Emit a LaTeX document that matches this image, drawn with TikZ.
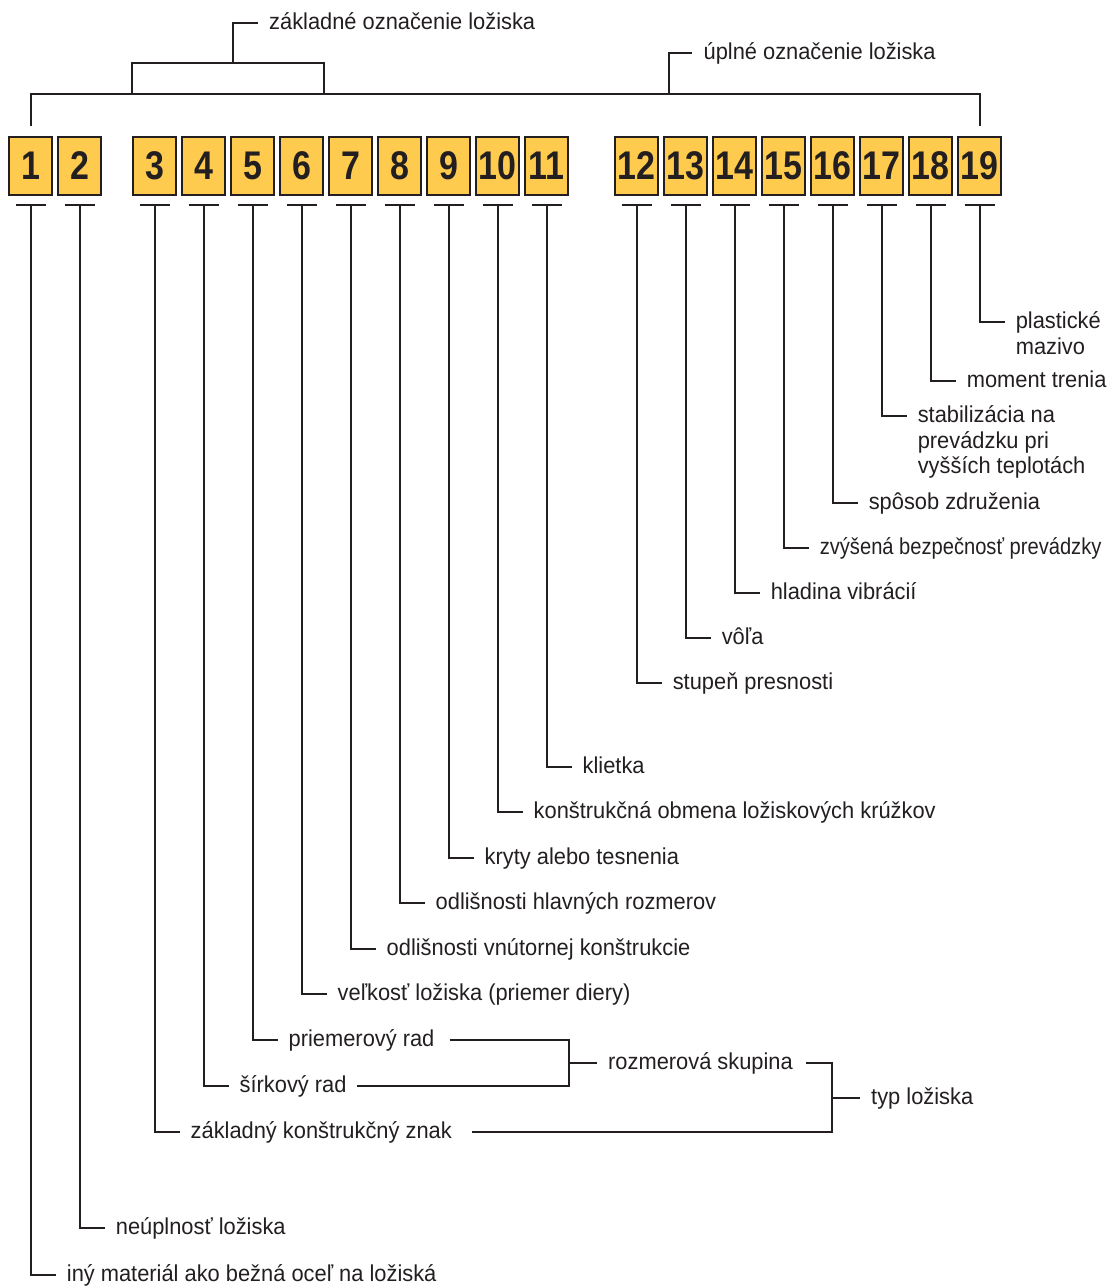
\documentclass[tikz,border=0pt]{standalone}
\usepackage{fontspec}
\setmainfont{Liberation Sans}[FakeStretch=0.95]
\newfontfamily\numfont{Liberation Sans}[FakeStretch=0.85]
\newfontfamily\narrowfont{Liberation Sans}[FakeStretch=0.875]
\definecolor{boxyellow}{HTML}{FFCB4F}
\definecolor{ink}{HTML}{231F20}
\begin{document}
\begin{tikzpicture}[x=1pt,y=-1pt,
  numbox/.style={draw=ink, line width=2pt, fill=boxyellow, minimum width=42.5pt, minimum height=58pt, inner sep=0pt, font=\numfont\bfseries\fontsize{40}{40}\selectfont, text=ink},
  lab/.style={anchor=west, inner xsep=11pt, inner ysep=0pt, text height=13pt, text depth=0pt, font=\fontsize{23}{25.5}\selectfont, text=ink},
  conn/.style={draw=ink, line width=2pt},
]
\useasboundingbox (0,0) rectangle (1106,1287);

% number boxes
\foreach \i/\x in {1/30.7,2/79.7,3/154.5,4/203.5,5/252.5,6/301.5,7/350.5,8/399.5,9/448.5,10/497.5,11/546.5,12/636.6,13/685.6,14/734.6,15/783.6,16/832.6,17/881.6,18/930.6,19/979.6}
  \node[numbox] (b\i) at (\x,166) {\i};

% labels and their connectors
\foreach \i/\x/\y/\txt in {
 1/30.7/1275/{iný materiál ako bežná oceľ na ložiská},
 2/79.7/1228/{neúplnosť ložiska},
 3/154.5/1132/{základný konštrukčný znak},
 4/203.5/1085.5/{šírkový rad},
 5/252.5/1040/{priemerový rad},
 6/301.5/994/{veľkosť ložiska (priemer diery)},
 7/350.5/948.5/{odlišnosti vnútornej konštrukcie},
 8/399.5/903/{odlišnosti hlavných rozmerov},
 9/448.5/857.5/{kryty alebo tesnenia},
 10/497.5/812/{konštrukčná obmena ložiskových krúžkov},
 11/546.5/766.5/{klietka},
 12/636.6/683/{stupeň presnosti},
 13/685.6/638/{vôľa},
 14/734.6/593/{hladina vibrácií},
 15/783.6/548/{\narrowfont zvýšená bezpečnosť prevádzky},
 16/832.6/502.5/{spôsob združenia},
 17/881.6/416/{\begin{tabular}[t]{@{}l@{}}stabilizácia na\\prevádzku pri\\vyšších teplotách\end{tabular}},
 18/930.6/380.7/{moment trenia},
 19/979.6/322.3/{\begin{tabular}[t]{@{}l@{}}plastické\\mazivo\end{tabular}}}
{
  \coordinate (t\i) at ([yshift=-9pt]b\i.south);
  \draw[conn] ([xshift=-15pt]t\i) -- ([xshift=15pt]t\i);
  \node[lab] (l\i) at (\x+25,\y) {\txt};
  \draw[conn] (t\i) |- (l\i.west);
}

% group brackets at the bottom
\node[lab] (lr) at (597,1063) {rozmerová skupina};
\node[lab] (lt) at (860,1097.5) {typ ložiska};
\coordinate (rb) at (569.3,1063);
\coordinate (tb) at (832.3,1097.5);
\draw[conn] ([xshift=4pt]l5.east) -| (rb) |- ([xshift=-1pt]l4.east);
\draw[conn] (rb) -- (lr.west);
\draw[conn] ([xshift=2pt]lr.east) -| (tb) |- ([xshift=9pt]l3.east);
\draw[conn] (tb) -- (lt.west);

% top brackets
\coordinate (mt) at (0,94);
\coordinate (bt) at (0,63);
\draw[conn] ([yshift=10pt]b1.north) -- (b1.north |- mt) -- (b19.north |- mt) -- ([yshift=10pt]b19.north);
\draw[conn] (b3.west |- mt) -- (b3.west |- bt) -- (b6.east |- bt) -- (b6.east |- mt);
\node[lab] (lz) at (258,23) {základné označenie ložiska};
\coordinate (zb) at (233,63);
\draw[conn] (zb) |- (lz.west);
\node[lab] (lu) at (692.4,53.3) {úplné označenie ložiska};
\coordinate (ub) at (668.7,94);
\draw[conn] (ub) |- (lu.west);
\end{tikzpicture}
\end{document}
